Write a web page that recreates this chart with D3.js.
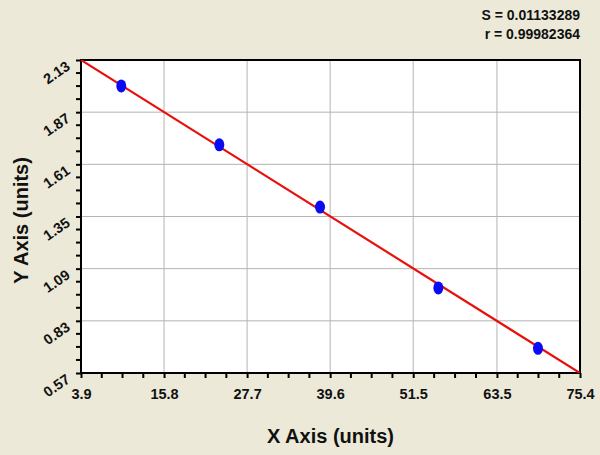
<!doctype html>
<html>
<head>
<meta charset="utf-8">
<title>Standard curve</title>
<script src="https://d3js.org/d3.v7.min.js"></script>
<style>
body { margin: 0; background: #ECE9D8; }
svg { display: block; font-family: Arial, "Liberation Sans", sans-serif; }
</style>
</head>
<body>
<div id="chart"></div>
<script>
// values
var xValues = [9.67, 23.72, 38.15, 55.1, 69.38];
var yValues = [2.001, 1.707, 1.397, 0.994, 0.693];
var xTicks = ["3.9", "15.8", "27.7", "39.6", "51.5", "63.5", "75.4"];
var yTicks = ["0.57", "0.83", "1.09", "1.35", "1.61", "1.87", "2.13"];
var fitSlope = -0.02182;
var fitIntercept = 2.215;
var stats = ["S = 0.01133289", "r = 0.99982364"];

var W = 600, H = 455;
var margin = {top: 60, right: 20, bottom: 82, left: 81};
var width = W - margin.left - margin.right,
    height = H - margin.top - margin.bottom;

var svg = d3.select("#chart").append("svg")
  .attr("width", W)
  .attr("height", H);

svg.append("rect").attr("width", W).attr("height", H).attr("fill", "#ECE9D8");

var g = svg.append("g")
  .attr("transform", "translate(" + margin.left + "," + margin.top + ")");

var x = d3.scaleLinear().domain([+xTicks[0], +xTicks[xTicks.length - 1]]).range([0, width]);
var y = d3.scaleLinear().domain([+yTicks[0], +yTicks[yTicks.length - 1]]).range([height, 0]);

// plot background
g.append("rect")
  .attr("width", width)
  .attr("height", height)
  .attr("fill", "#fff");

// minor tick positions: 4 subdivisions between majors
function minors(ticks) {
  var out = [];
  for (var i = 0; i < ticks.length - 1; i++) {
    var a = +ticks[i], b = +ticks[i + 1];
    for (var k = 1; k < 4; k++) out.push(a + (b - a) * k / 4);
  }
  return out;
}

// grid
g.append("g").selectAll("line")
  .data(xTicks.slice(1, -1))
  .join("line")
  .attr("x1", function(d) { return x(+d); })
  .attr("x2", function(d) { return x(+d); })
  .attr("y1", 0).attr("y2", height)
  .attr("stroke", "#b4b4b4").attr("stroke-width", 1);

g.append("g").selectAll("line")
  .data(yTicks.slice(1, -1))
  .join("line")
  .attr("y1", function(d) { return y(+d); })
  .attr("y2", function(d) { return y(+d); })
  .attr("x1", 0).attr("x2", width)
  .attr("stroke", "#b4b4b4").attr("stroke-width", 1);

// X axis
var xAxis = g.append("g")
  .attr("transform", "translate(0," + height + ")")
  .call(d3.axisBottom(x).tickValues(xTicks.map(Number)).tickFormat(function(d, i) { return xTicks[i]; }).tickSize(5).tickPadding(11));
xAxis.append("g").selectAll("line")
  .data(minors(xTicks))
  .join("line")
  .attr("x1", function(d) { return x(d); })
  .attr("x2", function(d) { return x(d); })
  .attr("y1", 0).attr("y2", 5)
  .attr("stroke", "#000").attr("stroke-width", 2);

// Y axis
var yAxis = g.append("g")
  .call(d3.axisLeft(y).tickValues(yTicks.map(Number)).tickFormat(function(d, i) { return yTicks[i]; }).tickSize(5));
yAxis.append("g").selectAll("line")
  .data(minors(yTicks))
  .join("line")
  .attr("y1", function(d) { return y(d); })
  .attr("y2", function(d) { return y(d); })
  .attr("x1", 0).attr("x2", -5)
  .attr("stroke", "#000").attr("stroke-width", 2);

[xAxis, yAxis].forEach(function(a) {
  a.attr("font-size", null).attr("font-family", null);
  a.select(".domain").remove();
  a.selectAll(".tick line").attr("stroke", "#000").attr("stroke-width", 2);
  a.selectAll(".tick text")
    .attr("fill", "#111")
    .style("font-size", "14.5px")
    .style("font-weight", "bold")
    .style("font-family", "Arial, 'Liberation Sans', sans-serif");
});

yAxis.selectAll(".tick text")
  .attr("x", null).attr("dy", null)
  .attr("text-anchor", "end")
  .attr("transform", "translate(-10,8) rotate(-35)");

// border
g.append("rect")
  .attr("width", width)
  .attr("height", height)
  .attr("fill", "none")
  .attr("stroke", "#000")
  .attr("stroke-width", 2);

// clip for the fit line
g.append("clipPath").attr("id", "plotclip")
  .append("rect").attr("width", width).attr("height", height);

// fit line
var x0 = x.domain()[0], x1 = x.domain()[1];
g.append("line")
  .attr("clip-path", "url(#plotclip)")
  .attr("x1", x(x0)).attr("y1", y(fitIntercept + fitSlope * x0))
  .attr("x2", x(x1)).attr("y2", y(fitIntercept + fitSlope * x1))
  .attr("stroke", "#e8100c")
  .attr("stroke-width", 2.2);

// points
g.append("g").selectAll("ellipse")
  .data(xValues)
  .join("ellipse")
  .attr("cx", function(d) { return x(d); })
  .attr("cy", function(d, i) { return y(yValues[i]); })
  .attr("rx", 5)
  .attr("ry", 6.5)
  .attr("fill", "#0a0af5");

// stats
svg.append("g").selectAll("text")
  .data(stats)
  .join("text")
  .attr("x", 580)
  .attr("y", function(d, i) { return 20 + i * 19; })
  .attr("text-anchor", "end")
  .attr("font-size", "14px")
  .attr("font-weight", "bold")
  .attr("fill", "#111")
  .text(function(d) { return d; });

// axis titles
svg.append("text")
  .attr("x", margin.left + width / 2)
  .attr("y", 443)
  .attr("text-anchor", "middle")
  .attr("font-size", "20px")
  .attr("font-weight", "bold")
  .attr("fill", "#111")
  .text("X Axis (units)");

svg.append("text")
  .attr("transform", "translate(28," + (margin.top + height / 2 + 4) + ") rotate(-90)")
  .attr("text-anchor", "middle")
  .attr("font-size", "20px")
  .attr("font-weight", "bold")
  .attr("fill", "#111")
  .text("Y Axis (units)");
</script>
</body>
</html>
